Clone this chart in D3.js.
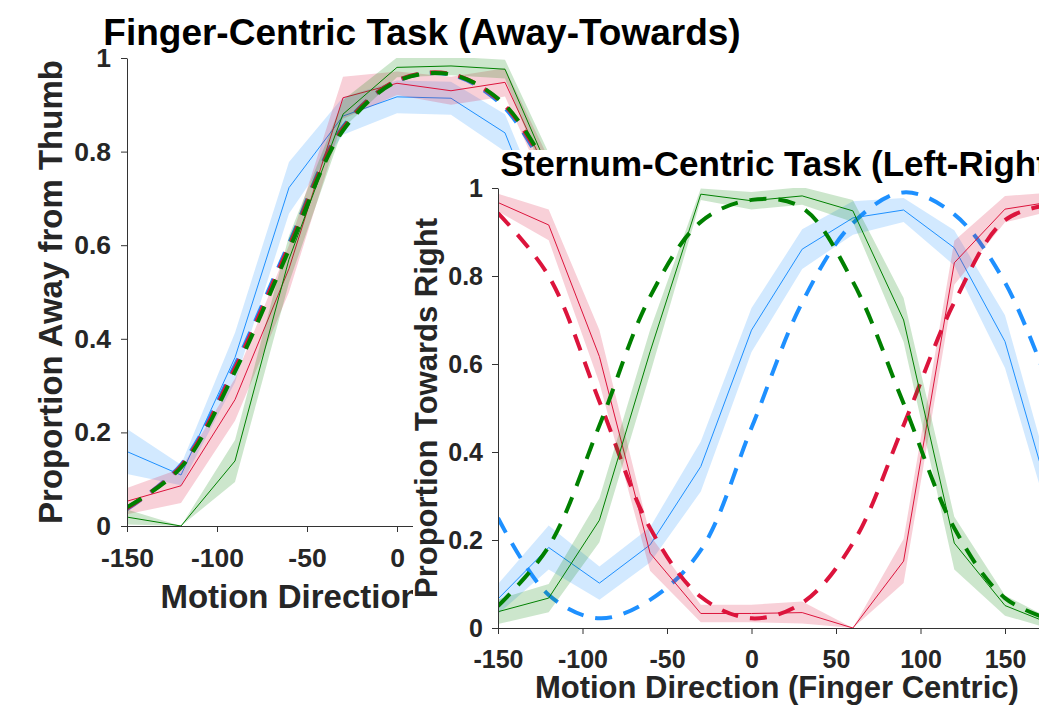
<!DOCTYPE html>
<html>
<head>
<meta charset="utf-8">
<script src="https://cdn.jsdelivr.net/npm/d3@7"></script>
<style>
  body { margin: 0; background: #fff; }
  svg { display: block; }
  text { font-family: "Liberation Sans", Arial, Helvetica, sans-serif; font-weight: bold; }
</style>
</head>
<body>
<svg id="chart" width="1039" height="715"></svg>
<script>
// ---- Finger-centric task: proportion "away from thumb" by motion direction ----
const fingerAngles   = [-150, -120, -90, -60, -30, 0, 30, 60, 90];
const fingerBlue     = [0.159, 0.109, 0.360, 0.723, 0.876, 0.917, 0.914, 0.840, 0.550];
const fingerBlueErr  = [0.048, 0.022, 0.053, 0.055, 0.040, 0.035, 0.035, 0.040, 0.050];
const fingerRed      = [0.053, 0.086, 0.270, 0.550, 0.915, 0.946, 0.930, 0.948, 0.700];
const fingerRedErr   = [0.028, 0.037, 0.045, 0.050, 0.045, 0.025, 0.030, 0.030, 0.040];
const fingerGreen    = [0.019, 0.000, 0.139, 0.570, 0.880, 0.980, 0.983, 0.976, 0.710];
const fingerGreenErr = [0.016, 0.000, 0.045, 0.050, 0.030, 0.021, 0.020, 0.020, 0.040];
const fingerBlueFit  = [0.036, 0.131, 0.344, 0.604, 0.853, 0.951, 0.964, 0.893, 0.703];
const fingerRedFit   = [0.038, 0.128, 0.338, 0.598, 0.850, 0.952, 0.966, 0.898, 0.712];
const fingerGreenFit = [0.040, 0.125, 0.330, 0.590, 0.845, 0.950, 0.965, 0.900, 0.720];

// ---- Sternum-centric task: proportion "towards right" by motion direction ----
const sternumAngles   = [-150, -120, -90, -60, -30, 0, 30, 60, 90, 120, 150, 180];
const sternumBlue     = [0.066, 0.183, 0.102, 0.189, 0.367, 0.677, 0.861, 0.932, 0.950, 0.864, 0.651, 0.250];
const sternumBlueErr  = [0.034, 0.050, 0.038, 0.040, 0.057, 0.050, 0.045, 0.038, 0.027, 0.040, 0.060, 0.050];
const sternumRed      = [0.967, 0.916, 0.617, 0.170, 0.033, 0.033, 0.035, 0.000, 0.152, 0.830, 0.952, 0.970];
const sternumRedErr   = [0.020, 0.035, 0.060, 0.040, 0.020, 0.020, 0.025, 0.000, 0.050, 0.050, 0.030, 0.020];
const sternumGreen    = [0.037, 0.068, 0.245, 0.628, 0.986, 0.971, 0.982, 0.948, 0.700, 0.193, 0.051, 0.005];
const sternumGreenErr = [0.028, 0.032, 0.050, 0.050, 0.013, 0.020, 0.020, 0.025, 0.050, 0.060, 0.023, 0.010];
const sternumBlueFit  = [0.250, 0.075, 0.022, 0.064, 0.177, 0.455, 0.740, 0.920, 0.990, 0.940, 0.785, 0.510];
const sternumRedFit   = [0.943, 0.800, 0.515, 0.227, 0.071, 0.022, 0.057, 0.193, 0.461, 0.740, 0.927, 0.965];
const sternumGreenFit = [0.050, 0.185, 0.460, 0.753, 0.923, 0.973, 0.955, 0.787, 0.510, 0.227, 0.068, 0.015];

// ---- Axis ticks ----
const yTickValues = [0, 0.2, 0.4, 0.6, 0.8, 1];
const xTickValues = [-150, -100, -50, 0, 50, 100, 150];
const xDomain = [-150, 180];

const COLORS = { blue: "#1E90FF", red: "#DC143C", green: "#008000" };
const AXIS_COLOR = "#333333";
const LABEL_COLOR = "#262626";

const svg = d3.select("#chart");

function drawPanel(cfg) {
  const g = svg.append("g");
  const x = d3.scaleLinear().domain(xDomain).range([cfg.left, cfg.right]);
  const y = d3.scaleLinear().domain([0, 1]).range([cfg.bottom, cfg.top]);

  const clipId = "clip-" + cfg.id;
  g.append("clipPath").attr("id", clipId)
    .append("rect")
    .attr("x", cfg.left).attr("y", cfg.top)
    .attr("width", cfg.right - cfg.left).attr("height", cfg.bottom - cfg.top);

  const plot = g.append("g").attr("clip-path", `url(#${clipId})`);

  const band = d3.area()
    .x(d => x(d.a))
    .y0(d => y(d.m - d.e))
    .y1(d => y(d.m + d.e));
  const line = d3.line().x(d => x(d.a)).y(d => y(d.m));
  const smooth = d3.line().x(d => x(d.a)).y(d => y(d.m)).curve(d3.curveCatmullRom.alpha(0.5));

  cfg.series.forEach(s => {
    const pts = cfg.angles.map((a, i) => ({ a, m: s.mean[i], e: s.err[i] }));
    const fit = cfg.angles.map((a, i) => ({ a, m: s.fit[i] }));
    plot.append("path").datum(pts)
      .attr("d", band)
      .attr("fill", s.color).attr("fill-opacity", 0.2).attr("stroke", "none");
    plot.append("path").datum(pts)
      .attr("d", line)
      .attr("fill", "none").attr("stroke", s.color).attr("stroke-width", 1);
    plot.append("path").datum(fit)
      .attr("d", smooth)
      .attr("fill", "none").attr("stroke", s.color).attr("stroke-width", 4)
      .attr("stroke-dasharray", "17,12");
  });

  // y axis
  const yAxis = g.append("g")
    .attr("transform", `translate(${cfg.left},0)`)
    .call(d3.axisLeft(y).tickValues(yTickValues).tickFormat(d => String(d))
      .tickSize(6).tickSizeOuter(0).tickPadding(cfg.yPad));
  // x axis
  const xAxis = g.append("g")
    .attr("transform", `translate(0,${cfg.bottom})`)
    .call(d3.axisBottom(x).tickValues(xTickValues).tickFormat(d => String(d))
      .tickSize(6).tickSizeOuter(0).tickPadding(cfg.xPad));

  [yAxis, xAxis].forEach(ax => {
    ax.select(".domain").attr("stroke", AXIS_COLOR).attr("stroke-width", 1);
    ax.selectAll(".tick line").attr("stroke", AXIS_COLOR).attr("stroke-width", 1);
    ax.selectAll(".tick text")
      .attr("fill", LABEL_COLOR)
      .style("font-size", cfg.tickFont + "px")
      .style("font-family", '"Liberation Sans", Arial, sans-serif')
      .style("font-weight", "bold");
  });

  const cx = (cfg.left + cfg.right) / 2;
  const cy = (cfg.top + cfg.bottom) / 2;

  g.append("text")
    .attr("x", cx + cfg.titleShift).attr("y", cfg.titleY)
    .attr("text-anchor", "middle")
    .attr("fill", "#000")
    .style("font-size", cfg.titleFont + "px")
    .text(cfg.title);

  g.append("text")
    .attr("x", cx + cfg.xLabelShift).attr("y", cfg.xLabelY)
    .attr("text-anchor", "middle")
    .attr("fill", LABEL_COLOR)
    .style("font-size", cfg.labelFont + "px")
    .text(cfg.xLabel);

  g.append("text")
    .attr("transform", `translate(${cfg.yLabelX},${cy}) rotate(-90)`)
    .attr("text-anchor", "middle")
    .attr("fill", LABEL_COLOR)
    .style("font-size", cfg.labelFont + "px")
    .text(cfg.yLabel);

  return g;
}

// Left panel: finger-centric task
drawPanel({
  id: "finger",
  left: 127, right: 721, top: 58, bottom: 526,
  angles: fingerAngles,
  series: [
    { color: COLORS.blue,  mean: fingerBlue,  err: fingerBlueErr,  fit: fingerBlueFit },
    { color: COLORS.red,   mean: fingerRed,   err: fingerRedErr,   fit: fingerRedFit },
    { color: COLORS.green, mean: fingerGreen, err: fingerGreenErr, fit: fingerGreenFit }
  ],
  title: "Finger-Centric Task (Away-Towards)",
  xLabel: "Motion Direction (Finger Centric)",
  yLabel: "Proportion Away from Thumb",
  titleFont: 37, titleY: 45, titleShift: -2,
  labelFont: 33, xLabelY: 608, xLabelShift: -6, yLabelX: 62,
  tickFont: 26.5, yPad: 10, xPad: 16
});

// Right panel sits on its own white sheet over the left one
svg.append("rect")
  .attr("x", 413).attr("y", 150)
  .attr("width", 1039 - 413).attr("height", 715 - 150)
  .attr("fill", "#fff");

// Right panel: sternum-centric task
drawPanel({
  id: "sternum",
  left: 498, right: 1055.7, top: 188, bottom: 628,
  angles: sternumAngles,
  series: [
    { color: COLORS.blue,  mean: sternumBlue,  err: sternumBlueErr,  fit: sternumBlueFit },
    { color: COLORS.red,   mean: sternumRed,   err: sternumRedErr,   fit: sternumRedFit },
    { color: COLORS.green, mean: sternumGreen, err: sternumGreenErr, fit: sternumGreenFit }
  ],
  title: "Sternum-Centric Task (Left-Right)",
  xLabel: "Motion Direction (Finger Centric)",
  yLabel: "Proportion Towards Right",
  titleFont: 35, titleY: 176, titleShift: 3,
  labelFont: 31, xLabelY: 698, xLabelShift: 0, yLabelX: 437,
  tickFont: 25, yPad: 9, xPad: 16
});
</script>
</body>
</html>
